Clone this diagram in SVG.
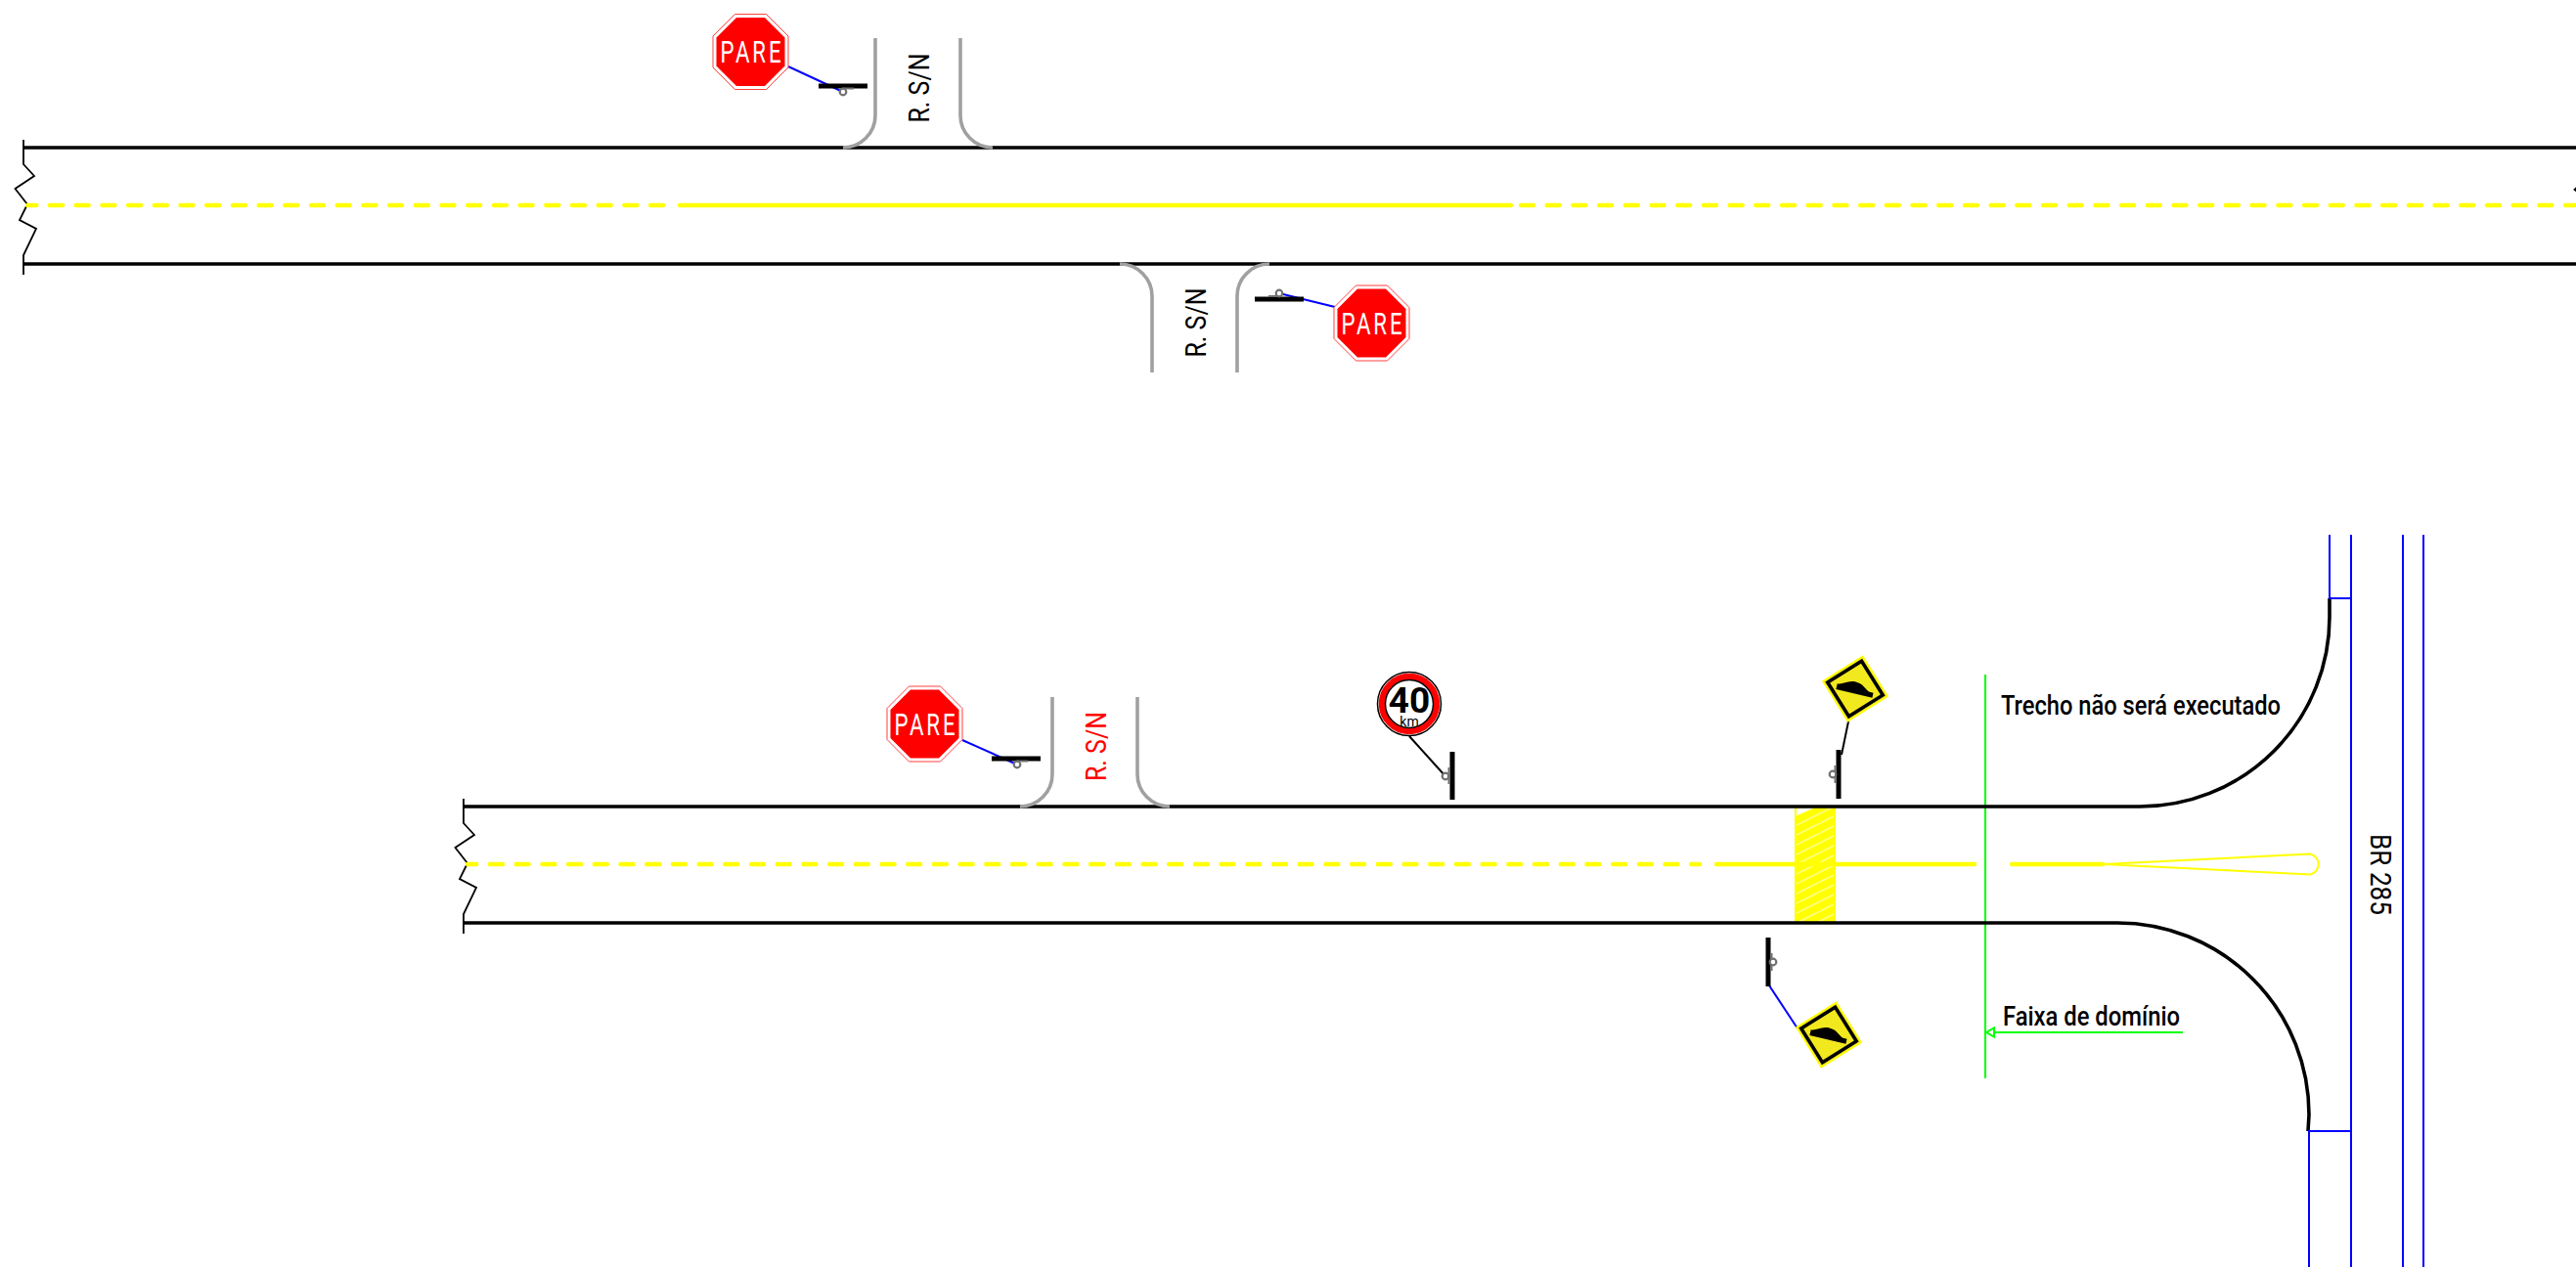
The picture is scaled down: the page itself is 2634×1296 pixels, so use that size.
<svg xmlns="http://www.w3.org/2000/svg" width="2634" height="1296" viewBox="0 0 2634 1296">
<style>
.road{fill:none;stroke:#000;stroke-width:3.6}
.brk{fill:none;stroke:#000;stroke-width:1.8}
.dash{fill:none;stroke:#ff0;stroke-width:4.4;stroke-linecap:round;stroke-dasharray:13 13.7}
.solid{fill:none;stroke:#ff0;stroke-width:4.4;stroke-linecap:round}
.curb{fill:none;stroke:#a0a0a0;stroke-width:3.6}
.blue{fill:none;stroke:#00f;stroke-width:2}
.lead{fill:none;stroke:#00f;stroke-width:2}
.leadk{fill:none;stroke:#000;stroke-width:2}
.green{fill:none;stroke:#0f0;stroke-width:2}
.post{fill:#000}
.lbl{font-family:Roboto,"Liberation Sans",sans-serif;font-size:29px;text-anchor:middle;fill:#000}
.note{font-family:Roboto,"Liberation Sans",sans-serif;font-size:27px;font-weight:500;fill:#000}
.pare{font-family:Roboto,"Liberation Sans",sans-serif;font-size:31px;letter-spacing:4px;fill:#fff;text-anchor:middle}
</style>
<defs>
<g id="oct">
<polygon points="-16,-38.5 16,-38.5 38.5,-16 38.5,16 16,38.5 -16,38.5 -38.5,16 -38.5,-16" fill="#fff" stroke="#ff4040" stroke-width="1"/>
<polygon points="-14.5,-35 14.5,-35 35,-14.5 35,14.5 14.5,35 -14.5,35 -35,14.5 -35,-14.5" fill="#f00"/>
</g>
<g id="hump">
<polygon points="-34,0 0,-34 34,0 0,34" fill="#f2e81e" stroke="#ff0" stroke-width="1.5"/>
<polygon points="-29,0 0,-29 29,0 0,29" fill="none" stroke="#000" stroke-width="3.5"/>
<path d="M-19,5 L-19,-1 C-13,-1 -10,-7 -1,-7 C7,-7 11,-1 15,0 L19,0 V5 Z" fill="#000"/>
</g>
<g id="knob">
<circle r="3.3" fill="#fff" stroke="#707070" stroke-width="2.2"/>
</g>
<pattern id="hatch" patternUnits="userSpaceOnUse" x="0" y="2.5" width="20" height="10">
<path d="M0,10 L20,0" stroke="#fff" stroke-width="1" fill="none"/>
</pattern>
</defs>
<rect width="2634" height="1296" fill="#fff"/>

<g id="hatch-area">
<rect x="1835" y="825" width="42" height="119" fill="#ff0"/>
<rect x="1837" y="826" width="38" height="117" fill="url(#hatch)"/>
<polygon points="1837,827 1837,834 1856,826" fill="#fff"/>
</g>

<g id="boundary">
<path class="green" d="M2030,690 V1103"/>
<path class="green" d="M2232,1056 H2039"/>
<polygon points="2031,1056 2039,1051.5 2039,1060.5" fill="#fff" stroke="#0f0" stroke-width="2"/>
</g>

<g id="road-top">
<path class="road" d="M24,151 H2634"/>
<path class="road" d="M24,270 H2634"/>
<path class="brk" d="M24,143 V168 L35,180 L15.5,193 L28,209 L20,225 L37,234 L24,261 V281"/>
<path class="brk" d="M2640,187 L2632.5,194 L2640,200"/>
<path class="dash" stroke-dashoffset="3.7" d="M28,210 H685"/>
<path class="solid" d="M695,210 H1545"/>
<path class="dash" d="M1555,210 H2634"/>
</g>

<g id="road-bottom">
<path class="road" d="M474,825 H2188 A194,194 0 0 0 2382,631 V612"/>
<path class="road" d="M474,944 H2165 A196,196 0 0 1 2361,1140 L2360,1157"/>
<path class="brk" d="M474,817 V842 L485,854 L465.5,867 L478,883 L470,899 L487,908 L474,935 V955"/>
<path class="dash" stroke-dashoffset="3.7" d="M478,884 H1738"/>
<path class="solid" d="M1755,884 H2019"/>
<path class="solid" d="M2057,884 H2150"/>
<path d="M2150,884 L2362,873.5 A10.7,10.7 0 0 1 2362,894.5 Z" fill="none" stroke="#ff0" stroke-width="2"/>
</g>

<g id="highway">
<path class="blue" d="M2382,547 V612 H2404"/>
<path class="blue" d="M2404,547 V1296"/>
<path class="blue" d="M2457,547 V1296"/>
<path class="blue" d="M2478,547 V1296"/>
<path class="blue" d="M2404,1157 H2361 V1296"/>
<text class="lbl" transform="translate(2424,894.5) rotate(90)" textLength="83" lengthAdjust="spacingAndGlyphs">BR 285</text>
</g>

<g id="street-1">
<path class="curb" d="M895,39 V118 A33,33 0 0 1 862,151"/>
<path class="curb" d="M982,39 V118 A33,33 0 0 0 1015,151"/>
<text class="lbl" transform="translate(950,90) rotate(-90)" textLength="71" lengthAdjust="spacingAndGlyphs">R. S/N</text>
</g>
<g id="street-2">
<path class="curb" d="M1178,381 V303 A33,33 0 0 0 1145,270"/>
<path class="curb" d="M1265,381 V303 A33,33 0 0 1 1298,270"/>
<text class="lbl" transform="translate(1233,330) rotate(-90)" textLength="71" lengthAdjust="spacingAndGlyphs">R. S/N</text>
</g>
<g id="street-3">
<path class="curb" d="M1076,713 V792 A33,33 0 0 1 1043,825"/>
<path class="curb" d="M1163,713 V792 A33,33 0 0 0 1196,825"/>
<text class="lbl" style="fill:#f00" transform="translate(1131,763.5) rotate(-90)" textLength="71" lengthAdjust="spacingAndGlyphs">R. S/N</text>
</g>

<g id="connectors">
<path class="lead" d="M806,68 L862,94"/>
<path class="lead" d="M1308,300 L1365,314"/>
<path class="lead" d="M984,757 L1040,782"/>
<path class="leadk" d="M1441,753 L1478,794"/>
<path class="leadk" d="M1890,738 L1883,772"/>
<path class="lead" d="M1809,1008 L1838,1052"/>
</g>

<g id="sign-pare-1">
<rect class="post" x="837" y="85.5" width="50" height="5"/>
<path d="M862,90.5 H873" stroke="#707070" stroke-width="2"/>
<use href="#knob" x="862" y="94"/>
<use href="#oct" x="767.5" y="53"/>
<text class="pare" transform="translate(769,64) scale(.72,1)">PARE</text>
</g>
<g id="sign-pare-2">
<rect class="post" x="1283" y="303.5" width="50" height="5"/>
<path d="M1297,303 H1308" stroke="#707070" stroke-width="2"/>
<use href="#knob" x="1308" y="300"/>
<use href="#oct" x="1402.5" y="330.5"/>
<text class="pare" transform="translate(1404,341.5) scale(.72,1)">PARE</text>
</g>
<g id="sign-pare-3">
<rect class="post" x="1014" y="773.5" width="50" height="5"/>
<path d="M1040,778.5 H1051" stroke="#707070" stroke-width="2"/>
<use href="#knob" x="1040" y="782"/>
<use href="#oct" x="945.5" y="740.5"/>
<text class="pare" transform="translate(947,751.5) scale(.72,1)">PARE</text>
</g>
<g id="sign-40">
<rect class="post" x="1482.5" y="769" width="5" height="49"/>
<path d="M1481.5,785 V802" stroke="#707070" stroke-width="2"/>
<use href="#knob" x="1478" y="794"/>
<circle cx="1441" cy="720" r="32.5" fill="#fff" stroke="#000" stroke-width="1.5"/>
<circle cx="1441" cy="720" r="28" fill="none" stroke="#f00" stroke-width="6.5"/>
<circle cx="1441" cy="720" r="24.5" fill="none" stroke="#000" stroke-width="1.5"/>
<text x="1441" y="729" font-family="Roboto,'Liberation Sans',sans-serif" font-size="37" font-weight="700" text-anchor="middle">40</text>
<text x="1441" y="743" font-family="Roboto,'Liberation Sans',sans-serif" font-size="14" text-anchor="middle">km</text>
</g>
<g id="sign-hump-1">
<rect class="post" x="1877.5" y="767" width="5" height="50"/>
<path d="M1876.5,783 V801" stroke="#707070" stroke-width="2"/>
<use href="#knob" x="1874" y="792"/>
<use href="#hump" transform="translate(1897,704.5) rotate(13)"/>
</g>
<g id="sign-hump-2">
<rect class="post" x="1805.5" y="959" width="5" height="50"/>
<path d="M1811.5,975 V993" stroke="#707070" stroke-width="2"/>
<use href="#knob" x="1813" y="984"/>
<use href="#hump" transform="translate(1870,1058.5) rotate(13)"/>
</g>

<g id="labels">
<text class="note" x="2046" y="731" textLength="286" lengthAdjust="spacingAndGlyphs">Trecho não será executado</text>
<text class="note" x="2048" y="1049" textLength="181" lengthAdjust="spacingAndGlyphs">Faixa de domínio</text>
</g>
</svg>
